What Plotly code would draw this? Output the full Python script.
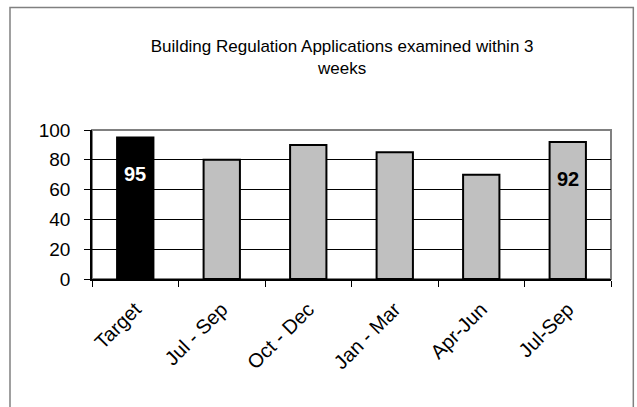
import plotly.graph_objects as go

# chart data
periods = ['Target', 'Jul - Sep', 'Oct - Dec', 'Jan - Mar', 'Apr-Jun', 'Jul-Sep']
percent = [95, 80, 90, 85, 70, 92]
bar_colors = ['#000000', '#C0C0C0', '#C0C0C0', '#C0C0C0', '#C0C0C0', '#C0C0C0']
labelled = [0, 5]          # bars that carry a value label
label_colors = ['white', 'black']

fig = go.Figure(data=[
    go.Bar(
        x=periods,
        y=percent,
        marker_color=bar_colors,
        marker_line_color='black',
        marker_line_width=2,
        hoverinfo='x+y',
    )
])

# value labels inside the first and last bars
for i, c in zip(labelled, label_colors):
    fig.add_annotation(
        x=periods[i], y=percent[i], text=f"<b>{percent[i]}</b>",
        showarrow=False, yshift=-37,
        font=dict(family='Liberation Sans, Arial', size=20, color=c),
    )

# grey border around plot area (top/right visible)
fig.add_shape(type='rect', xref='paper', yref='paper', x0=0, x1=1, y0=0, y1=1,
              line=dict(color='#808080', width=2), layer='below')
# outer chart frame
fig.add_shape(type='rect', xref='paper', yref='paper', x0=-0.158, x1=1.043, y0=-0.9, y1=1.822,
              line=dict(color='#808080', width=1.5), layer='above')

fig.update_layout(
    width=637, height=407,
    margin=dict(l=92, r=26, t=130, b=128),
    paper_bgcolor='white', plot_bgcolor='white',
    font=dict(family='Liberation Sans, Arial', color='black'),
    title=dict(
        text='Building Regulation Applications examined within 3<br>weeks',
        font=dict(size=17), xref='paper', x=0.482, xanchor='center',
        yref='container', y=0.872, yanchor='top',
    ),
    bargap=0.58,
    showlegend=False,
    xaxis=dict(
        tickangle=-45, tickfont=dict(size=20),
        showline=True, linecolor='black', linewidth=1.5,
        ticks='outside', tickson='boundaries', ticklen=6, tickcolor='black',
        ticklabelstandoff=9, showgrid=False,
    ),
    yaxis=dict(
        range=[0, 100], dtick=20, tickfont=dict(size=19),
        showline=True, linecolor='black', linewidth=1.5,
        ticks='outside', ticklen=6, tickcolor='black', ticklabelstandoff=10,
        showgrid=True, gridcolor='black', gridwidth=1,
        zeroline=False,
    ),
)

# drop the browser's default body margin so the figure fills the window
fig.write_html("out.html", config={'displayModeBar': False},
               post_script="document.body.style.margin='0';")
